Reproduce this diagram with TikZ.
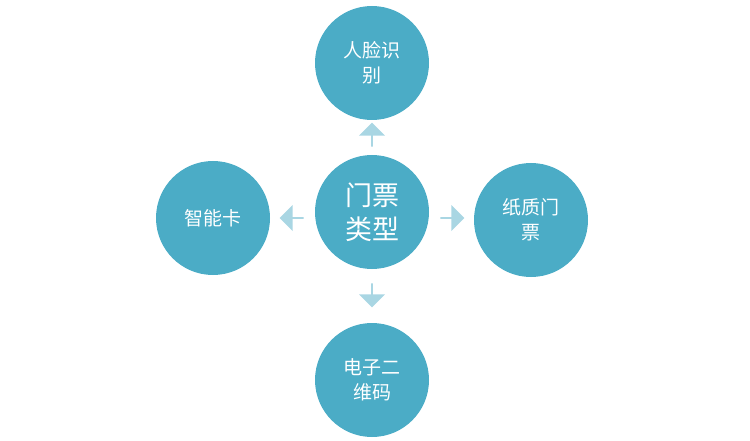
\documentclass[tikz,border=0pt]{standalone}
\usepackage{fontspec}
\newfontfamily\cjk{Noto Sans CJK SC}
\usetikzlibrary{positioning,shapes.arrows}
\definecolor{teal1}{HTML}{4BACC6}
\definecolor{pale1}{HTML}{A9D6E3}
\tikzset{
  kind/.style={circle, fill=teal1, minimum size=114pt, inner sep=0pt, text=white, align=center, font=\cjk\fontsize{19}{25}\selectfont},
  hub/.style={kind, font=\cjk\fontsize{27}{34}\selectfont},
  tip/.style={single arrow, fill=pale1, minimum height=24pt, minimum width=26pt, single arrow head extend=3pt, inner sep=0pt}
}
\begin{document}
\begin{tikzpicture}[x=1pt, y=-1pt]
\useasboundingbox (0,0) rectangle (750,441);
\node[hub] (c) at (372,212) {门票\\类型};
\node[kind] (face) at (372,63) {人脸识\\别};
\node[kind] (card) at (213,218) {智能卡};
\node[kind] (paper) at (531,220) {纸质门\\票};
\node[kind] (qr) at (372,380) {电子二\\维码};

\node[tip, rotate=90] (up) at (372,135) {};
\node[tip, rotate=180] (lt) at (292,218) {};
\node[tip] (rt) at (452,218) {};
\node[tip, rotate=-90] (dn) at (372,295) {};
\end{tikzpicture}
\end{document}
